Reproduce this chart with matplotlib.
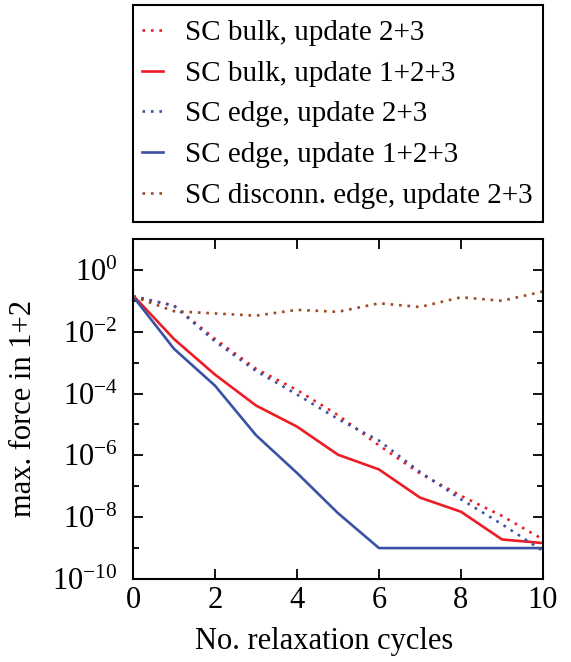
import math

import matplotlib
matplotlib.use("Agg")
import matplotlib.pyplot as plt
from matplotlib.patches import Rectangle
from matplotlib.ticker import FixedLocator, FuncFormatter

plt.rcParams["font.family"] = "Liberation Serif"
plt.rcParams["mathtext.fontset"] = "custom"
plt.rcParams["mathtext.rm"] = "Liberation Serif"
plt.rcParams["mathtext.it"] = "Liberation Serif:italic"
plt.rcParams["font.size"] = 21

cycles = [0, 1, 2, 3, 4, 5, 6, 7, 8, 9, 10]
bulk_23 = [1.4e-1, 7e-2, 5.8e-3, 6.3e-4, 1.3e-4, 2e-5, 2.1e-6, 2.6e-7, 4.9e-8, 1.1e-8, 1.9e-9]
bulk_123 = [1.5e-1, 5.8e-3, 4.1e-4, 4.1e-5, 8.5e-6, 1.05e-6, 3.5e-7, 4.3e-8, 1.5e-8, 1.9e-9, 1.45e-9]
edge_23 = [1.4e-1, 6.9e-2, 4.9e-3, 5.4e-4, 9.3e-5, 1.5e-5, 3e-6, 2.9e-7, 3.8e-8, 5.9e-9, 8.1e-10]
edge_123 = [1.4e-1, 2.8e-3, 1.8e-4, 4.5e-6, 2.7e-7, 1.35e-8, 1e-9, 1e-9, 1e-9, 1e-9, 1e-9]
disc_23 = [1.4e-1, 4.6e-2, 3.9e-2, 3.3e-2, 5.1e-2, 4.4e-2, 8.3e-2, 6.3e-2, 1.3e-1, 1.0e-1, 2.0e-1]

labels = ["SC bulk, update 2+3", "SC bulk, update 1+2+3",
          "SC edge, update 2+3", "SC edge, update 1+2+3",
          "SC disconn. edge, update 2+3"]

red = "#ec1c24"
blue = "#3a52a4"
brown = "#9c4a22"
dots = (0, (1, 2.2))

fig = plt.figure(figsize=(5.71, 6.62), dpi=100)
ax = fig.add_axes([0.2329, 0.1254, 0.718, 0.5136])

lw = 1.9
h1, = ax.plot(cycles, bulk_23, color=red, lw=lw, ls=dots)
h2, = ax.plot(cycles, bulk_123, color=red, lw=lw)
h3, = ax.plot(cycles, edge_23, color=blue, lw=lw, ls=dots)
h4, = ax.plot(cycles, edge_123, color=blue, lw=lw)
h5, = ax.plot(cycles, disc_23, color=brown, lw=lw, ls=dots)

ax.set_yscale("log")
ax.set_xlim(0, 10)
ax.set_ylim(1e-10, 1e1)
ax.xaxis.set_major_locator(FixedLocator([0, 2, 4, 6, 8, 10]))
ax.yaxis.set_major_locator(FixedLocator([10.0 ** e for e in range(-10, 1, 2)]))
ax.yaxis.set_minor_locator(FixedLocator([10.0 ** e for e in range(-9, 2, 2)]))
ax.yaxis.set_major_formatter(FuncFormatter(
    lambda v, p: r"$\mathregular{10^{%d}}$" % round(math.log10(v))))
ax.yaxis.set_minor_formatter(FuncFormatter(lambda v, p: ""))

for s in ax.spines.values():
    s.set_linewidth(1.5)
ax.tick_params(which="both", direction="in", top=True, right=True, width=1.3)
ax.tick_params(which="major", length=7, labelsize=22)
ax.tick_params(which="minor", length=4)
ax.tick_params(axis="x", pad=5)
ax.tick_params(axis="y", pad=11)

ax.set_xlabel("No. relaxation cycles", fontsize=22)
ax.set_ylabel("max. force in 1+2", fontsize=22)
ax.xaxis.set_label_coords(0.465, -0.14)
ax.yaxis.set_label_coords(-0.232, 0.5)

# legend box drawn on its own so the entries can sit a bit further left
fig.patches.append(Rectangle((0.2329, 0.6647), 0.718, 0.3277,
                             transform=fig.transFigure, fill=False,
                             edgecolor="black", lw=1.5))
fig.legend([h1, h2, h3, h4, h5], labels,
           loc="upper left", bbox_to_anchor=(0.2224, 0.9924),
           borderaxespad=0, frameon=False,
           handlelength=0.75, handletextpad=0.75, labelspacing=0.49,
           borderpad=0.5)

fig.savefig("out.png", dpi=100)
